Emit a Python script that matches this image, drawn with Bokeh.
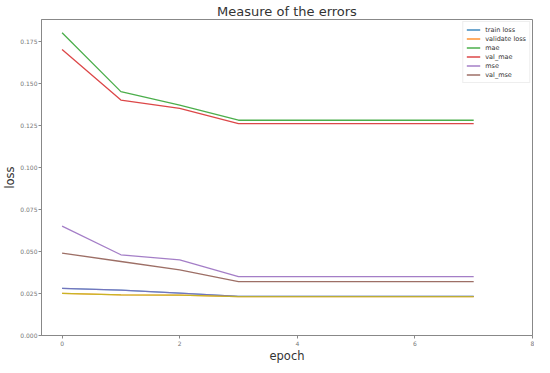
from bokeh.plotting import figure
from bokeh.models import Range1d, Legend, LegendItem, FixedTicker, NumeralTickFormatter
from bokeh.embed import file_html
from bokeh.resources import INLINE

epochs = [0, 1, 2, 3, 4, 5, 6, 7]
train_loss = [0.0280, 0.0270, 0.0252, 0.0233, 0.0233, 0.0233, 0.0233, 0.0233]
validate_loss = [0.0250, 0.0242, 0.0240, 0.0231, 0.0231, 0.0231, 0.0231, 0.0231]
mae = [0.180, 0.145, 0.137, 0.128, 0.128, 0.128, 0.128, 0.128]
val_mae = [0.170, 0.140, 0.135, 0.126, 0.126, 0.126, 0.126, 0.126]
mse = [0.065, 0.048, 0.045, 0.035, 0.035, 0.035, 0.035, 0.035]
val_mse = [0.049, 0.044, 0.039, 0.032, 0.032, 0.032, 0.032, 0.032]

x_ticks = [0, 2, 4, 6, 8]
y_ticks = [0.0, 0.025, 0.05, 0.075, 0.1, 0.125, 0.15, 0.175]

FONT = "DejaVu Sans"

p = figure(width=534, height=365, output_backend="svg", toolbar_location=None,
           x_range=Range1d(-0.35, 8), y_range=Range1d(0, 0.1879),
           title="Measure of the errors",
           min_border_left=0, min_border_right=2, min_border_top=0, min_border_bottom=0)
p.title.align = "center"
p.title.text_font = FONT
p.title.text_font_size = "13px"
p.title.text_font_style = "normal"
p.title.text_color = "#333333"
p.title.standoff = 2
p.title.offset = 0

p.background_fill_color = "white"
p.border_fill_color = "white"
p.outline_line_color = "#888888"
p.outline_line_width = 1
p.xgrid.visible = False
p.ygrid.visible = False

for ax in (p.xaxis[0], p.yaxis[0]):
    ax.axis_line_color = "#888888"
    ax.major_tick_line_color = "#888888"
    ax.minor_tick_line_color = None
    ax.major_tick_out = 3
    ax.major_tick_in = 0
    ax.major_label_text_font = FONT
    ax.major_label_text_font_size = "6px"
    ax.major_label_text_color = "#777777"
    ax.major_label_standoff = 2
    ax.axis_label_text_font = FONT
    ax.axis_label_text_font_size = "11.5px"
    ax.axis_label_text_font_style = "normal"
    ax.axis_label_text_color = "#333333"
    ax.axis_label_standoff = 0
p.yaxis.major_label_standoff = 1
p.xaxis.axis_label = "epoch"
p.yaxis.axis_label = "loss"
p.xaxis.ticker = FixedTicker(ticks=x_ticks)
p.yaxis.ticker = FixedTicker(ticks=y_ticks)
p.yaxis.formatter = NumeralTickFormatter(format="0.000")

series = [
    ("train loss", train_loss, "#1f77b4"),
    ("validate loss", validate_loss, "#ff7f0e"),
    ("mae", mae, "#2ca02c"),
    ("val_mae", val_mae, "#d62728"),
    ("mse", mse, "#9467bd"),
    ("val_mse", val_mse, "#8c564b"),
]
items = []
for name, ys, col in series:
    r = p.line(epochs, ys, line_color=col, line_width=1.3, line_alpha=0.85)
    items.append(LegendItem(label=name, renderers=[r]))
# overlapping lines seen in the picture
p.line(epochs, train_loss, line_color="#9467bd", line_width=1.3, line_alpha=0.6)
p.line(epochs, validate_loss, line_color="#bcbd22", line_width=1.3, line_alpha=0.8)

legend = Legend(items=items, location="top_right")
legend.label_text_font = FONT
legend.label_text_font_size = "6.5px"
legend.label_text_color = "#333333"
legend.glyph_width = 14
legend.glyph_height = 9
legend.label_height = 9
legend.spacing = 0
legend.padding = 3
legend.margin = 2
legend.label_standoff = 5
legend.border_line_color = "#dddddd"
legend.border_line_width = 1
p.add_layout(legend)

open("out.html", "w").write(file_html(p, INLINE))
